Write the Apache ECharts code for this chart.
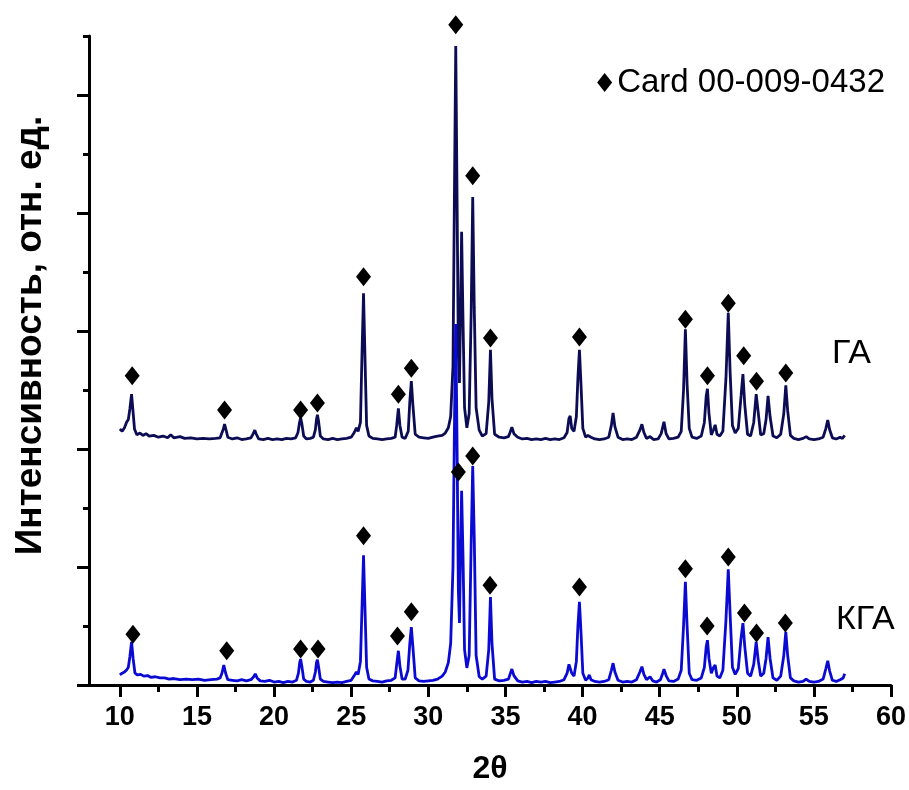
<!DOCTYPE html>
<html>
<head>
<meta charset="utf-8">
<script src="https://cdn.jsdelivr.net/npm/echarts@6/dist/echarts.min.js"></script>
<style>
  html, body { margin: 0; padding: 0; background: #fff; }
  #chart { width: 909px; height: 790px; }
</style>
</head>
<body>
<div id="chart"></div>
<script>
// X-ray diffraction patterns, [2θ, intensity in relative units]
const gaPattern = [
  [10.0,4.34],[10.15,4.30],[10.3,4.36],[10.45,4.46],[10.55,4.5],[10.65,4.68],[10.76,4.93],[10.86,4.62],[10.95,4.34],
  [11.1,4.24],[11.3,4.27],[11.5,4.23],[11.7,4.26],[11.9,4.22],[12.2,4.23],[12.5,4.20],[12.8,4.22],[13.1,4.19],
  [13.3,4.24],[13.5,4.19],[13.9,4.21],[14.2,4.18],[14.6,4.19],[15.0,4.17],[15.4,4.18],[15.8,4.17],[16.2,4.18],[16.5,4.19],
  [16.6,4.22],[16.7,4.33],[16.79,4.42],[16.88,4.33],[17.0,4.2],[17.3,4.17],[17.6,4.19],[17.9,4.16],[18.2,4.17],[18.5,4.19],
  [18.65,4.26],[18.75,4.32],[18.85,4.25],[19.0,4.17],[19.3,4.16],[19.6,4.18],[19.9,4.16],[20.2,4.17],[20.5,4.16],
  [20.8,4.18],[21.1,4.17],[21.4,4.19],[21.55,4.28],[21.65,4.45],[21.72,4.53],[21.8,4.43],[21.92,4.22],[22.1,4.17],
  [22.35,4.18],[22.55,4.2],[22.68,4.33],[22.75,4.5],[22.81,4.58],[22.88,4.48],[23.0,4.22],[23.2,4.17],[23.5,4.16],
  [23.8,4.18],[24.1,4.16],[24.4,4.17],[24.7,4.18],[25.0,4.2],[25.2,4.28],[25.34,4.36],[25.45,4.3],[25.6,4.45],
  [25.7,5.6],[25.8,6.64],[25.9,5.5],[26.0,4.4],[26.15,4.22],[26.4,4.18],[26.7,4.17],[27.0,4.16],[27.3,4.17],
  [27.6,4.18],[27.85,4.2],[27.95,4.4],[28.06,4.69],[28.16,4.4],[28.3,4.2],[28.5,4.18],[28.7,4.3],[28.8,4.8],
  [28.9,5.15],[29.0,4.75],[29.15,4.25],[29.4,4.2],[29.7,4.19],[30.0,4.18],[30.3,4.2],[30.6,4.22],[30.9,4.23],
  [31.1,4.27],[31.3,4.36],[31.45,4.55],[31.6,5.4],[31.7,8.5],[31.78,10.83],[31.86,8.4],[31.95,5.6],[32.02,5.12],
  [32.1,6.5],[32.16,7.68],[32.25,6.2],[32.35,4.7],[32.5,4.36],[32.65,4.6],[32.78,6.3],[32.88,8.27],[32.98,6.4],
  [33.1,4.7],[33.3,4.32],[33.5,4.22],[33.75,4.26],[33.92,4.8],[34.03,5.68],[34.13,4.85],[34.3,4.25],[34.6,4.2],
  [34.9,4.19],[35.2,4.21],[35.3,4.28],[35.42,4.37],[35.55,4.26],[35.8,4.2],[36.1,4.17],[36.4,4.18],[36.7,4.16],
  [37.0,4.17],[37.3,4.16],[37.6,4.18],[37.9,4.16],[38.2,4.17],[38.5,4.16],[38.8,4.19],[39.0,4.28],[39.12,4.52],
  [39.2,4.56],[39.3,4.35],[39.45,4.3],[39.6,4.55],[39.7,5.2],[39.8,5.68],[39.9,5.1],[40.02,4.35],[40.2,4.2],
  [40.35,4.23],[40.44,4.26],[40.55,4.2],[40.8,4.17],[41.1,4.16],[41.4,4.17],[41.7,4.2],[41.87,4.4],[41.98,4.61],
  [42.1,4.38],[42.3,4.2],[42.6,4.16],[42.9,4.17],[43.2,4.16],[43.5,4.2],[43.72,4.32],[43.85,4.42],[43.98,4.28],
  [44.15,4.18],[44.38,4.21],[44.6,4.16],[44.9,4.17],[45.1,4.26],[45.28,4.46],[45.42,4.26],[45.6,4.17],[45.9,4.18],
  [46.2,4.2],[46.4,4.3],[46.55,5.0],[46.67,6.03],[46.78,5.1],[46.92,4.35],[47.1,4.2],[47.4,4.18],[47.7,4.22],
  [47.9,4.45],[48.02,4.9],[48.1,5.02],[48.2,4.6],[48.35,4.24],[48.5,4.33],[48.6,4.41],[48.72,4.25],[48.9,4.22],
  [49.1,4.3],[49.3,5.2],[49.45,6.31],[49.57,5.3],[49.72,4.4],[49.9,4.27],[50.1,4.35],[50.28,4.9],[50.4,5.27],
  [50.52,4.75],[50.7,4.25],[50.9,4.22],[51.1,4.45],[51.26,4.93],[51.4,4.6],[51.55,4.24],[51.75,4.26],[51.9,4.5],
  [52.03,4.9],[52.16,4.55],[52.35,4.22],[52.6,4.19],[52.85,4.25],[53.05,4.6],[53.18,5.08],[53.3,4.65],[53.48,4.23],
  [53.7,4.18],[54.0,4.16],[54.3,4.18],[54.5,4.21],[54.7,4.17],[55.0,4.16],[55.3,4.17],[55.6,4.2],[55.78,4.35],
  [55.9,4.49],[56.02,4.33],[56.2,4.19],[56.45,4.17],[56.7,4.2],[56.85,4.18],[57.0,4.23]
];

const kgaPattern = [
  [10.0,0.17],[10.15,0.2],[10.3,0.22],[10.45,0.26],[10.55,0.3],[10.65,0.48],[10.76,0.73],[10.86,0.45],[10.98,0.2],
  [11.15,0.17],[11.35,0.18],[11.55,0.15],[11.8,0.16],[12.0,0.13],[12.3,0.14],[12.6,0.12],[12.9,0.12],[13.2,0.1],
  [13.5,0.11],[13.9,0.09],[14.3,0.1],[14.7,0.09],[15.1,0.1],[15.5,0.08],[15.9,0.09],[16.3,0.1],[16.5,0.12],
  [16.62,0.2],[16.74,0.34],[16.86,0.2],[17.0,0.09],[17.3,0.08],[17.6,0.07],[17.9,0.09],[18.2,0.07],[18.5,0.09],
  [18.68,0.14],[18.78,0.19],[18.9,0.12],[19.1,0.07],[19.4,0.06],[19.7,0.08],[20.0,0.05],[20.3,0.06],[20.6,0.04],
  [20.9,0.06],[21.2,0.05],[21.45,0.08],[21.58,0.2],[21.66,0.38],[21.72,0.44],[21.8,0.32],[21.92,0.1],[22.1,0.06],
  [22.35,0.05],[22.55,0.08],[22.68,0.22],[22.75,0.38],[22.81,0.43],[22.89,0.3],[23.0,0.1],[23.2,0.06],[23.5,0.05],
  [23.8,0.04],[24.1,0.05],[24.4,0.04],[24.7,0.06],[25.0,0.08],[25.2,0.16],[25.34,0.22],[25.45,0.18],[25.6,0.4],
  [25.7,1.3],[25.8,2.2],[25.9,1.25],[26.0,0.3],[26.15,0.1],[26.4,0.07],[26.7,0.06],[27.0,0.05],[27.3,0.07],
  [27.6,0.08],[27.85,0.12],[27.95,0.35],[28.06,0.58],[28.16,0.32],[28.3,0.1],[28.5,0.1],[28.68,0.25],[28.8,0.7],
  [28.9,0.98],[29.0,0.65],[29.15,0.12],[29.4,0.07],[29.7,0.06],[30.0,0.07],[30.3,0.08],[30.6,0.1],[30.9,0.15],
  [31.1,0.22],[31.3,0.38],[31.45,0.7],[31.6,2.0],[31.7,4.5],[31.78,6.12],[31.86,4.2],[31.95,1.6],[32.02,1.05],
  [32.1,2.4],[32.16,3.29],[32.25,2.2],[32.35,0.6],[32.5,0.29],[32.65,0.5],[32.78,2.4],[32.88,3.71],[32.98,2.5],
  [33.1,0.5],[33.3,0.14],[33.5,0.1],[33.75,0.15],[33.92,0.6],[34.03,1.49],[34.13,0.7],[34.3,0.1],[34.6,0.07],
  [34.9,0.08],[35.2,0.1],[35.3,0.18],[35.42,0.27],[35.55,0.16],[35.8,0.07],[36.1,0.05],[36.4,0.06],[36.7,0.04],
  [37.0,0.06],[37.3,0.05],[37.6,0.06],[37.9,0.04],[38.2,0.05],[38.5,0.06],[38.8,0.09],[39.0,0.2],[39.12,0.35],
  [39.2,0.37],[39.3,0.2],[39.45,0.15],[39.6,0.4],[39.7,1.0],[39.8,1.41],[39.9,0.9],[40.02,0.2],[40.2,0.08],
  [40.35,0.12],[40.44,0.17],[40.55,0.09],[40.8,0.06],[41.1,0.05],[41.4,0.06],[41.7,0.09],[41.87,0.25],[41.98,0.37],
  [42.1,0.22],[42.3,0.08],[42.6,0.05],[42.9,0.06],[43.2,0.05],[43.5,0.09],[43.72,0.22],[43.85,0.31],[43.98,0.18],
  [44.15,0.09],[44.38,0.14],[44.55,0.07],[44.8,0.05],[45.05,0.09],[45.2,0.2],[45.28,0.27],[45.42,0.16],[45.6,0.07],
  [45.9,0.06],[46.2,0.1],[46.4,0.25],[46.55,1.0],[46.67,1.75],[46.78,1.0],[46.92,0.2],[47.1,0.09],[47.4,0.08],
  [47.7,0.12],[47.9,0.3],[48.02,0.65],[48.1,0.76],[48.2,0.45],[48.35,0.2],[48.5,0.3],[48.6,0.34],[48.72,0.15],
  [48.9,0.12],[49.1,0.25],[49.3,1.1],[49.45,1.96],[49.57,1.2],[49.72,0.3],[49.9,0.18],[50.1,0.28],[50.28,0.8],
  [50.4,1.05],[50.52,0.65],[50.7,0.2],[50.9,0.15],[51.1,0.35],[51.26,0.73],[51.4,0.4],[51.55,0.15],[51.75,0.2],
  [51.9,0.45],[52.03,0.81],[52.16,0.45],[52.35,0.12],[52.6,0.08],[52.85,0.15],[53.05,0.5],[53.18,0.9],[53.3,0.5],
  [53.48,0.12],[53.7,0.07],[54.0,0.05],[54.3,0.06],[54.5,0.1],[54.7,0.06],[55.0,0.05],[55.3,0.06],[55.6,0.1],
  [55.78,0.28],[55.9,0.41],[56.02,0.24],[56.2,0.08],[56.45,0.06],[56.7,0.09],[56.9,0.12],[57.0,0.19]
];

// Reflections matched to card 00-009-0432, marked above each pattern
const gaCardMarks = [
  [10.8,5.24],[16.79,4.66],[21.72,4.66],[22.81,4.78],[25.8,6.92],[28.06,4.93],[28.9,5.37],[31.78,11.19],
  [32.88,8.63],[34.03,5.88],[39.8,5.9],[46.67,6.2],[48.1,5.24],[49.45,6.47],[50.45,5.58],[51.28,5.15],[53.18,5.29]
];
const kgaCardMarks = [
  [10.85,0.86],[16.93,0.58],[21.72,0.61],[22.85,0.61],[25.8,2.53],[28.0,0.83],[28.9,1.24],[31.95,3.61],
  [32.88,3.88],[34.0,1.69],[39.8,1.66],[46.67,1.97],[48.08,1.0],[49.45,2.17],[50.5,1.22],[51.28,0.88],[53.15,1.05]
];

// Axis tick positions
const xMajorTicks = [10, 15, 20, 25, 30, 35, 40, 45, 50, 55, 60];
const xMinorTicks = [12.5, 17.5, 22.5, 27.5, 32.5, 37.5, 42.5, 47.5, 52.5, 57.5];
const yMajorTicks = [0, 2, 4, 6, 8, 10];
const yMinorTicks = [1, 3, 5, 7, 9, 11];

const FONT = '"Liberation Sans", Arial, sans-serif';
const cardName = 'Card 00-009-0432';

const chart = echarts.init(document.getElementById('chart'));

const baseAxis = {
  type: 'value',
  splitLine: { show: false },
  axisLine: { show: false, onZero: false },
  axisLabel: { show: false }
};

const diamondStyle = { color: '#000', opacity: 1 };

chart.setOption({
  animation: false,
  backgroundColor: '#fff',
  grid: { left: 89, right: 18, top: 36, bottom: 105, containLabel: false },
  legend: {
    data: [{ name: cardName, icon: 'diamond', itemStyle: { color: '#000', opacity: 1 } }],
    right: 19,
    top: 61,
    itemWidth: 15,
    itemHeight: 19,
    textStyle: { fontSize: 33, color: '#000', fontFamily: FONT }
  },
  xAxis: [
    Object.assign({}, baseAxis, {
      min: 8, max: 60, position: 'bottom',
      axisLine: { show: true, onZero: false, lineStyle: { color: '#000', width: 3 } },
      axisTick: { show: true, customValues: xMajorTicks, length: 12, lineStyle: { color: '#000', width: 3 } },
      axisLabel: { show: true, customValues: xMajorTicks, fontSize: 27, fontWeight: 'bold', color: '#000', fontFamily: FONT, margin: 19 },
      name: '2θ', nameLocation: 'middle', nameGap: 68,
      nameTextStyle: { fontSize: 32, fontWeight: 'bold', color: '#000', fontFamily: FONT }
    }),
    Object.assign({}, baseAxis, {
      min: 8, max: 60, position: 'bottom',
      axisTick: { show: true, customValues: xMinorTicks, length: 7, lineStyle: { color: '#000', width: 3 } }
    })
  ],
  yAxis: [
    Object.assign({}, baseAxis, {
      min: 0, max: 11, position: 'left',
      axisLine: { show: true, onZero: false, lineStyle: { color: '#000', width: 3 } },
      axisTick: { show: true, customValues: yMajorTicks, length: 12, lineStyle: { color: '#000', width: 3 } },
      name: 'Интенсивность, отн. ед.', nameLocation: 'middle', nameGap: 40,
      nameTextStyle: { fontSize: 37, fontWeight: 'bold', color: '#000', fontFamily: FONT, padding: [0, 0, 0, 50] }
    }),
    Object.assign({}, baseAxis, {
      min: 0, max: 11, position: 'left',
      axisTick: { show: true, customValues: yMinorTicks, length: 6, lineStyle: { color: '#000', width: 3 } }
    })
  ],
  graphic: [
    { type: 'text', left: 832, top: 337, style: { text: 'ГА', fontSize: 34, fill: '#000', fontFamily: FONT } },
    { type: 'text', left: 836, top: 603, style: { text: 'КГА', fontSize: 34, fill: '#000', fontFamily: FONT } }
  ],
  series: [
    {
      name: 'ГА', type: 'line', xAxisIndex: 0, yAxisIndex: 0,
      data: gaPattern, symbol: 'none', z: 2,
      lineStyle: { color: '#0c0c55', width: 2.8 }
    },
    {
      name: 'КГА', type: 'line', xAxisIndex: 0, yAxisIndex: 0,
      data: kgaPattern, symbol: 'none', z: 3,
      lineStyle: { color: '#0a0ad2', width: 2.8 }
    },
    {
      name: cardName, type: 'scatter', xAxisIndex: 0, yAxisIndex: 0,
      data: gaCardMarks, symbol: 'diamond', symbolSize: [15, 19], clip: false, z: 4,
      itemStyle: diamondStyle
    },
    {
      name: cardName, type: 'scatter', xAxisIndex: 0, yAxisIndex: 0,
      data: kgaCardMarks, symbol: 'diamond', symbolSize: [15, 19], clip: false, z: 4,
      itemStyle: diamondStyle
    }
  ]
});
</script>
</body>
</html>
